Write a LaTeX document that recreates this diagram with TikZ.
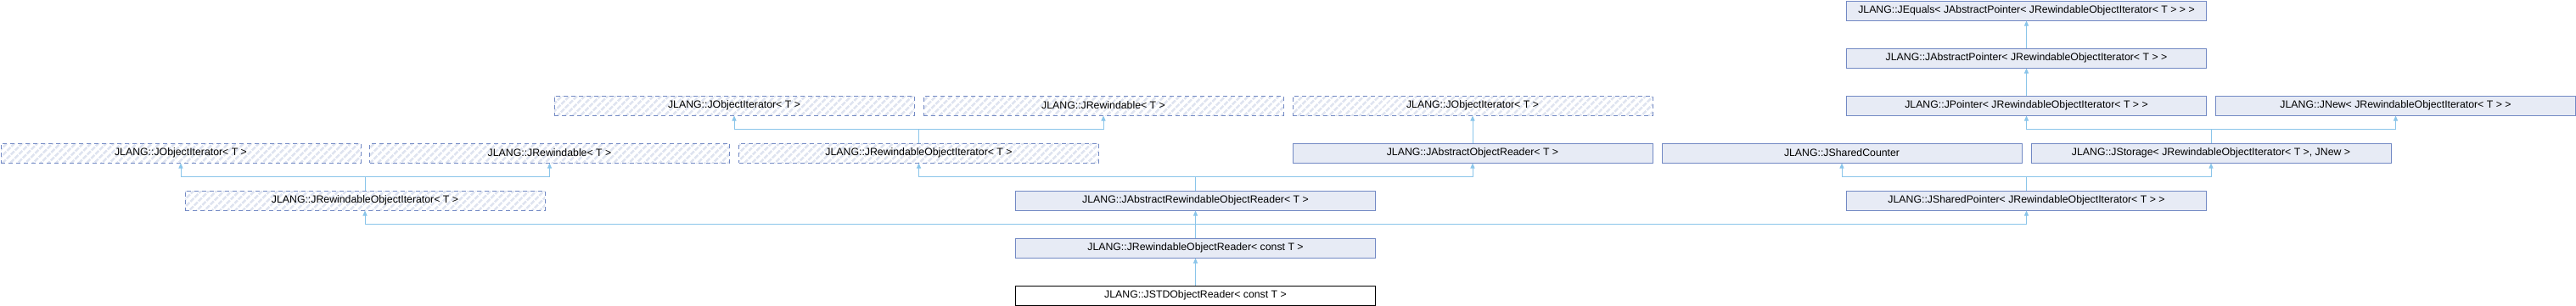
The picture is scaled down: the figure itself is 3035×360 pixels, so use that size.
\documentclass[tikz,border=0pt]{standalone}
\usepackage{fontspec}
\setmainfont{Liberation Sans}
\usetikzlibrary{arrows.meta,patterns.meta}
\definecolor{boxfill}{HTML}{E7EBF5}
\definecolor{boxdraw}{HTML}{7289C4}
\definecolor{edgecol}{HTML}{8AC5EA}
\definecolor{hatchcol}{HTML}{DFE4F0}
\begin{document}
\begin{tikzpicture}[x=1pt,y=1pt,
  cls/.style={draw=boxdraw, fill=boxfill, line width=1pt, minimum width=424pt,
    minimum height=23pt, inner sep=0pt, anchor=north west,
    font=\fontsize{12.3}{14}\selectfont},
  focus/.style={cls, draw=black, fill=white},
  undoc/.style={cls, fill=none, dash pattern=on 5pt off 4pt,
    preaction={pattern={Lines[angle=45,distance=6.5pt,line width=3pt]}, pattern color=hatchcol}},
  edge/.style={draw=edgecol, line width=1pt, -{Triangle[width=5pt,length=6pt]}}]
\fill[white] (0,0) rectangle (3035,-360);
\useasboundingbox (0,0) rectangle (3035,-360);
% row 0
\node[cls] (equals) at (2175,-0.5) {JLANG::JEquals< JAbstractPointer< JRewindableObjectIterator< T > > >};
% row 1
\node[cls] (absptr) at (2175,-56.5) {JLANG::JAbstractPointer< JRewindableObjectIterator< T > >};
% row 2
\node[undoc] (joiA) at (652.5,-112.5) {JLANG::JObjectIterator< T >};
\node[undoc] (jrwA) at (1087.5,-112.5) {JLANG::JRewindable< T >};
\node[undoc] (joiB) at (1522.5,-112.5) {JLANG::JObjectIterator< T >};
\node[cls] (jptr) at (2175,-112.5) {JLANG::JPointer< JRewindableObjectIterator< T > >};
\node[cls] (jnew) at (2610,-112.5) {JLANG::JNew< JRewindableObjectIterator< T > >};
% row 3
\node[undoc] (joiC) at (0.5,-168.5) {JLANG::JObjectIterator< T >};
\node[undoc] (jrwC) at (435,-168.5) {JLANG::JRewindable< T >};
\node[undoc] (jroiC) at (870,-168.5) {JLANG::JRewindableObjectIterator< T >};
\node[cls] (aor) at (1522.5,-168.5) {JLANG::JAbstractObjectReader< T >};
\node[cls] (scnt) at (1957.5,-168.5) {JLANG::JSharedCounter};
\node[cls] (jstor) at (2392.5,-168.5) {JLANG::JStorage< JRewindableObjectIterator< T >, JNew >};
% row 4
\node[undoc] (jroiD) at (217.5,-224.5) {JLANG::JRewindableObjectIterator< T >};
\node[cls] (aror) at (1196,-224.5) {JLANG::JAbstractRewindableObjectReader< T >};
\node[cls] (sptr) at (2175,-224.5) {JLANG::JSharedPointer< JRewindableObjectIterator< T > >};
% row 5
\node[cls] (rwor) at (1196,-280.5) {JLANG::JRewindableObjectReader< const T >};
% row 6
\node[focus] (std) at (1196,-336.5) {JLANG::JSTDObjectReader< const T >};
% junction levels
\coordinate (jA) at (0,-152);
\coordinate (jB) at (0,-208);
\coordinate (jC) at (0,-264);
% edges
\draw[edge] (std.north) -- (rwor.south);
\draw[edge] (rwor.north) -- (rwor.north |- jC) -| (jroiD.south);
\draw[edge] (rwor.north) -- (aror.south);
\draw[edge] (rwor.north) -- (rwor.north |- jC) -| (sptr.south);
\draw[edge] (aror.north) -- (aror.north |- jB) -| (jroiC.south);
\draw[edge] (aror.north) -- (aror.north |- jB) -| (aor.south);
\draw[edge] (jroiD.north) -- (jroiD.north |- jB) -| (joiC.south);
\draw[edge] (jroiD.north) -- (jroiD.north |- jB) -| (jrwC.south);
\draw[edge] (jroiC.north) -- (jroiC.north |- jA) -| (joiA.south);
\draw[edge] (jroiC.north) -- (jroiC.north |- jA) -| (jrwA.south);
\draw[edge] (aor.north) -- (joiB.south);
\draw[edge] (sptr.north) -- (sptr.north |- jB) -| (scnt.south);
\draw[edge] (sptr.north) -- (sptr.north |- jB) -| (jstor.south);
\draw[edge] (jstor.north) -- (jstor.north |- jA) -| (jptr.south);
\draw[edge] (jstor.north) -- (jstor.north |- jA) -| (jnew.south);
\draw[edge] (jptr.north) -- (absptr.south);
\draw[edge] (absptr.north) -- (equals.south);
\end{tikzpicture}
\end{document}
